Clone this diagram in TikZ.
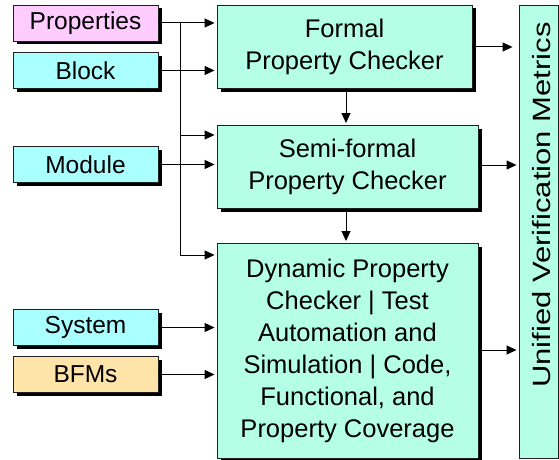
\documentclass[tikz,border=0pt]{standalone}
\usepackage{fontspec}
\setmainfont{Liberation Sans}
\usetikzlibrary{arrows.meta,shadows,positioning}
\definecolor{pinkfill}{HTML}{FFCCFF}
\definecolor{cyanfill}{HTML}{AAFFFF}
\definecolor{peachfill}{HTML}{FFE4AA}
\definecolor{aquafill}{HTML}{B4FFE6}
\definecolor{edge}{HTML}{202020}
\tikzset{
  box/.style={draw=edge, line width=0.9pt, inner sep=0pt, align=center,
    font=\fontsize{24.5}{32}\selectfont,
    drop shadow={shadow xshift=3.5pt, shadow yshift=-3.5pt, fill=black, opacity=1}},
  inbox/.style={box, minimum width=145pt, minimum height=36pt},
  bigbox/.style={box, fill=aquafill, font=\fontsize{25.5}{32}\selectfont},
  conn/.style={line width=1pt, -{Triangle[length=10pt,width=9pt]}, shorten >=2pt},
  wire/.style={line width=1pt}
}
\begin{document}
\begin{tikzpicture}[x=1pt,y=-1pt]
\useasboundingbox (0,0) rectangle (559,460);
% input boxes
\node[inbox, fill=pinkfill] (prop) at (85.5,23) {Properties};
\node[inbox, fill=cyanfill] (block) at (85.5,70.5) {Block};
\node[inbox, fill=cyanfill] (module) at (85.5,164.5) {Module};
\node[inbox, fill=cyanfill] (system) at (85.5,327.5) {System};
\node[inbox, fill=peachfill] (bfms) at (85.5,374.5) {BFMs};
% checker boxes
\node[bigbox, minimum width=255pt, minimum height=83pt] (formal) at (344.5,46.5) {Formal\\Property Checker};
\node[bigbox, minimum width=261pt, minimum height=83pt] (semi) at (347.5,166.5) {Semi-formal\\Property Checker};
\node[bigbox, minimum width=261pt, minimum height=215pt] (dyn) at (347.5,350.5) {Dynamic Property\\Checker | Test\\Automation and\\Simulation | Code,\\Functional, and\\Property Coverage};
% unified
\node[draw=edge, line width=0.9pt, fill=aquafill, minimum width=39pt, minimum height=453pt, inner sep=0pt] (uni) at (538.5,231.5) {};
\node[rotate=90, inner sep=0pt, font=\fontsize{25}{32}\selectfont] (unitext) at (542,205) {\scalebox{1.24}[1]{Unified Verification Metrics}};
% bus
\coordinate (bustop) at (180,23);
\coordinate (busmid) at (180,135);
\coordinate (busbot) at (180,255);
\draw[wire] (bustop) -- (busbot);
\draw[conn] (busmid) -- (busmid -| semi.west);
\draw[conn] (busbot) -- (busbot -| dyn.west);
% inputs
\draw[conn] (prop.east) -- (prop.east -| formal.west);
\draw[conn] (block.east) -- (block.east -| formal.west);
\draw[conn] (module.east) -- (module.east -| semi.west);
\draw[conn] (system.east) -- (system.east -| dyn.west);
\draw[conn] (bfms.east) -- (bfms.east -| dyn.west);
% vertical
\draw[conn] (346,88) -- (346,125);
\draw[conn] (346,208) -- (346,243);
% outputs
\coordinate (o1) at (472,47);
\coordinate (o2) at (478,165);
\coordinate (o3) at (478,350);
\draw[conn, shorten >=6pt] (o1) -- (o1 -| uni.west);
\draw[conn] (o2) -- (o2 -| uni.west);
\draw[conn] (o3) -- (o3 -| uni.west);
\end{tikzpicture}
\end{document}
